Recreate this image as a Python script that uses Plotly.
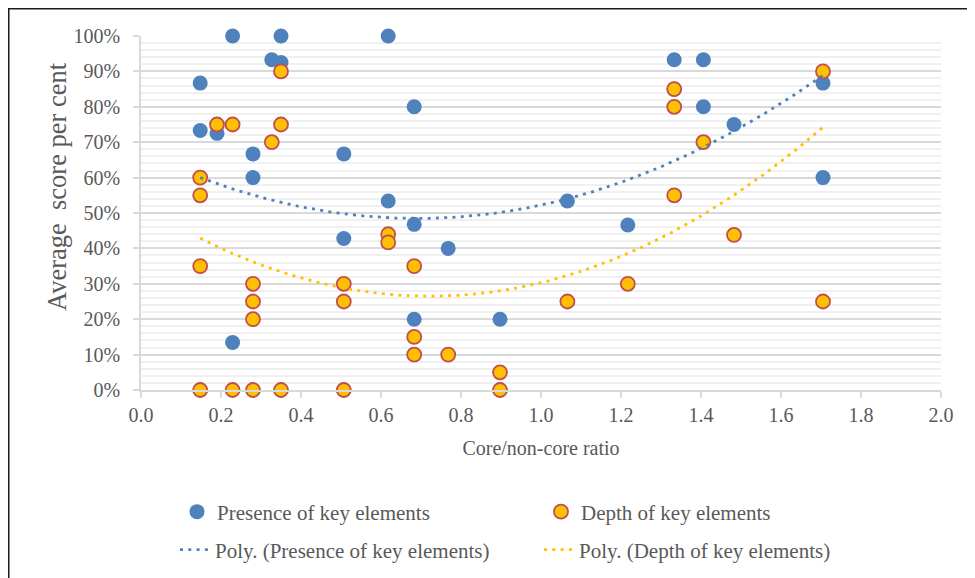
import numpy as np
import plotly.graph_objects as go

# ---- data ----
# (the last six presence points sit underneath depth markers; they are implied
#  by the position of the presence trend line)
presence_x = [0.148, 0.148, 0.19, 0.229, 0.229, 0.28, 0.28, 0.327, 0.35, 0.35,
              0.507, 0.507, 0.618, 0.618, 0.683, 0.683, 0.683, 0.768, 0.8975,
              1.066, 1.217, 1.333, 1.406, 1.406, 1.4825, 1.705, 1.705,
              0.148, 0.28, 0.35, 0.507, 0.8975, 1.333]
presence_y = [86.7, 73.3, 72.5, 100, 13.4, 66.7, 60, 93.3, 100, 92.5,
              66.7, 42.8, 100, 53.4, 80, 46.8, 20, 40, 20,
              53.4, 46.6, 93.3, 93.3, 80, 75, 86.7, 60,
              0, 0, 0, 0, 0, 85]

depth_x = [0.35, 1.705, 1.333, 1.333, 0.19, 0.229, 0.35, 0.327, 1.406, 0.148,
           0.148, 1.333, 0.618, 0.618, 1.4825, 0.148, 0.683, 0.28, 0.507, 1.217,
           0.28, 0.507, 1.066, 1.705, 0.28, 0.683, 0.683, 0.768, 0.8975,
           0.148, 0.229, 0.28, 0.35, 0.507, 0.8975]
depth_y = [90, 90, 85, 80, 75, 75, 75, 70, 70, 60,
           55, 55, 44, 41.7, 43.8, 35, 35, 30, 30, 30,
           25, 25, 25, 25, 20, 15, 10, 10, 5,
           0, 0, 0, 0, 0, 0]

series_names = ["Presence of key elements", "Depth of key elements"]
x_ticks = [0.0, 0.2, 0.4, 0.6, 0.8, 1.0, 1.2, 1.4, 1.6, 1.8, 2.0]
y_ticks = [0, 10, 20, 30, 40, 50, 60, 70, 80, 90, 100]

BLUE = "#4F81BD"
ORANGE = "#FFC000"
RED = "#C0504D"
TXT = "#595959"
FONT = "Liberation Serif"


def poly_trend(xs, ys):
    c = np.polyfit(xs, ys, 2)
    xx = np.linspace(min(xs), max(xs), 200)
    return xx, np.polyval(c, xx)


fig = go.Figure()
fig.add_trace(go.Scatter(x=presence_x, y=presence_y, mode="markers",
                         name=series_names[0], legend="legend",
                         marker=dict(size=15, color=BLUE, line=dict(width=0)),
                         cliponaxis=False))
fig.add_trace(go.Scatter(x=depth_x, y=depth_y, mode="markers",
                         name=series_names[1], legend="legend",
                         marker=dict(size=14, color=ORANGE, line=dict(width=1.8, color=RED)),
                         cliponaxis=False))
tx, ty = poly_trend(presence_x, presence_y)
fig.add_trace(go.Scatter(x=tx, y=ty, mode="lines", legend="legend2",
                         name="Poly. (" + series_names[0] + ")",
                         line=dict(color=BLUE, width=2.8, dash="3px,5.3px")))
tx, ty = poly_trend(depth_x, depth_y)
fig.add_trace(go.Scatter(x=tx, y=ty, mode="lines", legend="legend2",
                         name="Poly. (" + series_names[1] + ")",
                         line=dict(color=ORANGE, width=2.8, dash="3px,5.3px")))

OFF = 8  # page body margin
L, R, T, B = 141 - OFF, 941 - OFF, 36 - OFF, 390 - OFF
W, H = 967, 570


def px_x(p):
    return (p - OFF - L) / (R - L)


def px_y(p):
    return (B - (p - OFF)) / (B - T)


legend_common = dict(orientation="h", xanchor="left", yanchor="middle",
                     font=dict(family=FONT, size=21, color=TXT),
                     bgcolor="rgba(0,0,0,0)", entrywidth=319, itemwidth=30,
                     traceorder="normal")

fig.update_layout(
    width=W, height=H,
    margin=dict(l=L, r=W - R, t=T, b=H - B, pad=0, autoexpand=False),
    paper_bgcolor="white", plot_bgcolor="white",
    font=dict(family=FONT, color=TXT, size=20),
    legend=dict(x=px_x(177), y=px_y(512), **legend_common),
    legend2=dict(x=px_x(175), y=px_y(550), **legend_common),
    xaxis=dict(range=[0, 2], tickvals=x_ticks, tickformat=".1f",
               showgrid=False, zeroline=False, showline=True,
               linecolor="#d9d9d9", linewidth=1.5,
               ticks="outside", ticklen=6, tickcolor="#d9d9d9", tickwidth=1.5,
               tickfont=dict(size=20, color=TXT, family=FONT),
               title=dict(text="Core/non-core ratio", standoff=16,
                          font=dict(size=20, color=TXT, family=FONT))),
    yaxis=dict(range=[0, 100], tickvals=y_ticks,
               ticktext=[f"{v}%" for v in y_ticks],
               showgrid=True, gridcolor="#d9d9d9", gridwidth=1.5,
               minor=dict(dtick=2, tick0=0, showgrid=True,
                          gridcolor="#f0f0f0", gridwidth=1.5),
               zeroline=False, showline=True, linecolor="#d9d9d9", linewidth=1.5,
               ticks="outside", ticklen=6, tickcolor="#d9d9d9", tickwidth=1.5,
               ticklabelstandoff=9,
               tickfont=dict(size=20, color=TXT, family=FONT)),
    annotations=[dict(text="Average  score per cent", textangle=-90,
                      xref="paper", yref="paper", x=px_x(57), y=px_y(187),
                      xanchor="center", yanchor="middle", showarrow=False,
                      font=dict(size=26.5, color=TXT, family=FONT))],
    shapes=[
        dict(type="line", xref="paper", yref="paper",
             x0=px_x(8), x1=px_x(990), y0=px_y(8), y1=px_y(8),
             line=dict(color="#1a1a1a", width=3)),
        dict(type="line", xref="paper", yref="paper",
             x0=px_x(8), x1=px_x(8), y0=px_y(8), y1=px_y(600),
             line=dict(color="#1a1a1a", width=3)),
    ],
)

fig.write_html("out.html")
